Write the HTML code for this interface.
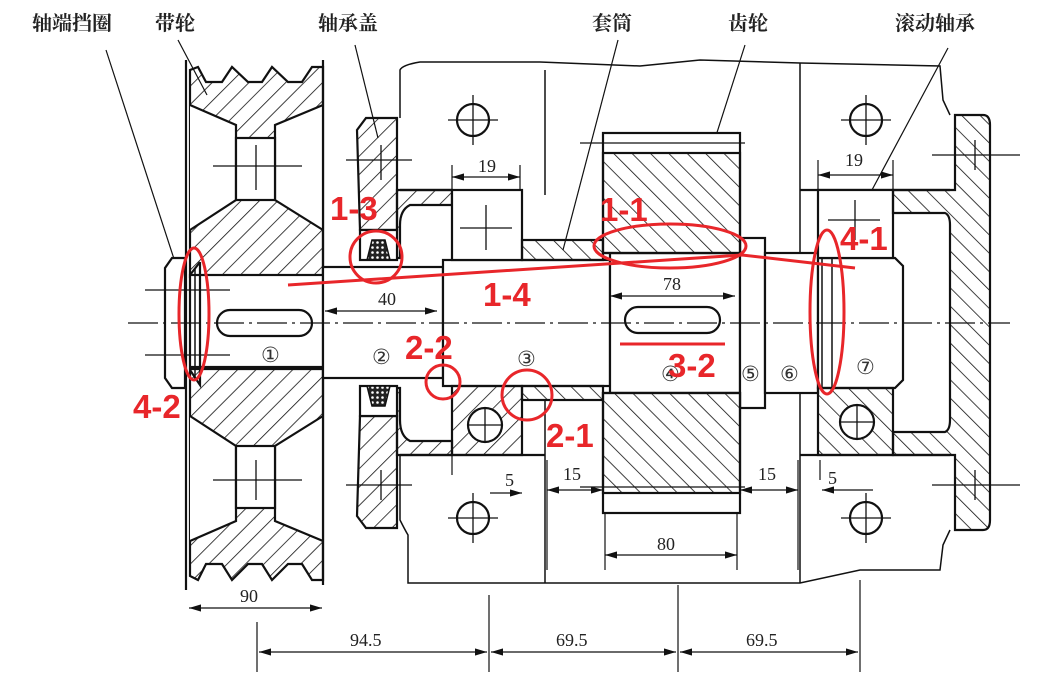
<!DOCTYPE html>
<html><head><meta charset="utf-8"><style>
html,body{margin:0;padding:0;background:#fff;}
svg{display:block}
.t{font-family:"Liberation Serif","Noto Serif CJK SC",serif;font-size:20px;fill:#222;font-weight:bold}
.d{font-family:"Liberation Serif",serif;font-size:18px;fill:#222}
.r{font-family:"Liberation Sans",sans-serif;font-size:33px;font-weight:bold;fill:#e8262a}
.c{font-family:"Liberation Serif","DejaVu Serif",serif;font-size:21px;fill:#333}
</style></head><body>
<svg width="1038" height="687" viewBox="0 0 1038 687" xmlns="http://www.w3.org/2000/svg">
<defs>
<pattern id="h" width="13" height="13" patternUnits="userSpaceOnUse" patternTransform="rotate(45)"><line x1="0" y1="0" x2="0" y2="13" stroke="#111" stroke-width="1.6"/></pattern>
<pattern id="hb" width="13" height="13" patternUnits="userSpaceOnUse" patternTransform="rotate(-45)"><line x1="0" y1="0" x2="0" y2="13" stroke="#111" stroke-width="1.6"/></pattern>
<pattern id="dots" width="5" height="5" patternUnits="userSpaceOnUse"><rect width="5" height="5" fill="#222"/><circle cx="2.5" cy="2.5" r="1.3" fill="#fff"/></pattern>
<marker id="a" markerWidth="10" markerHeight="6" refX="10" refY="3" orient="auto-start-reverse"><path d="M0,0 L10,3 L0,6z" fill="#111"/></marker>
</defs>
<rect width="1038" height="687" fill="#fff"/>
<g stroke="#111" fill="none" stroke-width="2.2">
<g stroke-width="1.2">
<line x1="106" y1="50" x2="175" y2="262"/>
<line x1="178" y1="40" x2="207" y2="95"/>
<line x1="355" y1="45" x2="378" y2="138"/>
<line x1="618" y1="40" x2="563" y2="250"/>
<line x1="745" y1="45" x2="713" y2="145"/>
<line x1="948" y1="48" x2="865" y2="203"/>
</g>
<path d="M400,118 V70 Q402,65 420,62 L540,62 L640,66 L700,60 L800,63 L940,66 L943,100 L950,115" stroke-width="1.5"/>
<path d="M400,455 V520 Q405,530 408,535 V583 L800,583 L860,570 L940,570 L943,545 L950,530" stroke-width="1.5"/>
<line x1="545" y1="70" x2="545" y2="195" stroke-width="1.5"/>
<line x1="545" y1="400" x2="545" y2="583" stroke-width="1.5"/>
<line x1="800" y1="63" x2="800" y2="253" stroke-width="1.5"/>
<line x1="800" y1="393" x2="800" y2="583" stroke-width="1.5"/>
<line x1="800" y1="190" x2="950" y2="190"/>
<line x1="800" y1="455" x2="950" y2="455"/>
<line x1="400" y1="190" x2="452" y2="190"/>
<line x1="400" y1="455" x2="545" y2="455"/>
<path d="M190,277 V105 L190,70 L198,67 L206,82 L222,82 L232,67 L248,82 L262,82 L272,67 L288,82 L302,82 L312,67 L323,67 V277 Z" fill="url(#h)"/>
<path d="M190,105 L236,125 V200 L190,230 Z" fill="#fff" stroke="none"/>
<path d="M323,105 L275,125 V200 L323,230 Z" fill="#fff" stroke="none"/>
<path d="M190,105 L236,125 V200 L190,230 M323,105 L275,125 V200 L323,230" />
<rect x="236" y="138" width="39" height="62" fill="#fff"/>
<path d="M190,369 V541 L190,576 L198,580 L206,564 L222,564 L232,580 L248,564 L262,564 L272,580 L288,564 L302,564 L312,580 L323,580 V369 Z" fill="url(#h)"/>
<path d="M190,541 L236,521 V446 L190,416 Z" fill="#fff" stroke="none"/>
<path d="M323,541 L275,521 V446 L323,416 Z" fill="#fff" stroke="none"/>
<path d="M190,541 L236,521 V446 L190,416 M323,541 L275,521 V446 L323,416"/>
<rect x="236" y="446" width="39" height="62" fill="#fff"/>
<line x1="186" y1="60" x2="186" y2="590" />
<line x1="323" y1="60" x2="323" y2="585"/>
<rect x="190" y="275" width="133" height="92" fill="#fff"/>
<rect x="323" y="267" width="120" height="111" fill="#fff"/>
<rect x="443" y="260" width="167" height="126" fill="#fff"/>
<rect x="610" y="253" width="130" height="140" fill="#fff"/>
<rect x="740" y="238" width="25" height="170" fill="#fff"/>
<rect x="765" y="253" width="53" height="140" fill="#fff"/>
<path d="M818,258 H895 L903,266 V380 L895,388 H818 Z" fill="#fff"/>
<rect x="217" y="310" width="95" height="26" rx="13" fill="#fff"/>
<rect x="625" y="307" width="95" height="26" rx="13" fill="#fff"/>
<path d="M172,258 H185 V388 H172 L165,378 V268 Z" fill="#fff"/>
<path d="M190,275 L200,262 M200,262 V385 L190,370" />
<line x1="195" y1="268" x2="195" y2="380" stroke-width="1.5"/>
<line x1="822" y1="258" x2="822" y2="388" stroke-width="1.5"/>
<line x1="832" y1="258" x2="832" y2="388" stroke-width="1.5"/>
<path d="M357,130 L366,118 H397 V230 H360 Z" fill="url(#h)"/>
<path d="M397,190 H452 V205 H410 Q400,210 400,225 V258 H397 Z" fill="url(#h)"/>
<rect x="360" y="230" width="37" height="30" fill="#fff"/>
<path d="M367,260 L372,240 H385 L390,260 Z" fill="url(#dots)" stroke-width="1.5"/>
<path d="M357,516 L366,528 H397 V416 H360 Z" fill="url(#h)"/>
<path d="M397,455 H452 V441 H410 Q400,436 400,420 V388 H397 Z" fill="url(#h)"/>
<rect x="360" y="386" width="37" height="30" fill="#fff"/>
<path d="M367,386 L372,406 H385 L390,386 Z" fill="url(#dots)" stroke-width="1.5"/>
<rect x="452" y="190" width="70" height="70" fill="#fff"/>
<rect x="452" y="386" width="70" height="69" fill="url(#h)"/>
<circle cx="485" cy="425" r="17" fill="#fff"/>
<rect x="522" y="240" width="81" height="20" fill="url(#hb)"/>
<rect x="522" y="386" width="81" height="14" fill="url(#hb)"/>
<rect x="603" y="133" width="137" height="120" fill="#fff"/>
<rect x="603" y="153" width="137" height="100" fill="url(#hb)"/>
<rect x="603" y="393" width="137" height="120" fill="#fff"/>
<rect x="603" y="393" width="137" height="100" fill="url(#hb)"/>
<rect x="818" y="190" width="75" height="68" fill="#fff"/>
<rect x="818" y="388" width="75" height="67" fill="url(#hb)"/>
<circle cx="857" cy="422" r="17" fill="#fff"/>
<path d="M955,115 H983 Q990,115 990,125 V520 Q990,530 983,530 H955 V455 H893 V432 H945 Q950,430 950,420 V225 Q950,215 945,213 H893 V190 H955 Z" fill="url(#hb)"/>
</g>
<g stroke="#111" fill="none" stroke-width="2.2">
<circle cx="473" cy="120" r="16"/><circle cx="473" cy="518" r="16"/>
<circle cx="866" cy="120" r="16"/><circle cx="866" cy="518" r="16"/>
</g>
<g stroke="#111" stroke-width="1.3">
<path d="M448,120H498M473,95V145M448,518H498M473,493V543M841,120H891M866,95V145M841,518H891M866,493V543"/>
<path d="M468,425H502M485,408V442M840,422H874M857,405V439"/>
<path d="M460,228H512M486,205V250M828,220H880M855,200V240"/>
<path d="M213,166H302M256,145V190M213,480H302M256,460V500"/>
<path d="M346,160H412M381,145V180M346,485H412M381,470V500"/>
<path d="M145,290H230M145,355H230"/>
<path d="M580,143H745M580,487H745"/>
<path d="M932,155H1020M975,140V170M932,485H1020M975,470V500"/>
<path d="M128,323H1010" stroke-dasharray="30,5,3,5"/>
</g>
<g stroke="#111" stroke-width="1.2" fill="none">
<path d="M452,165V190M520,165V190M818,160V190M893,160V190"/>
<line x1="452" y1="177" x2="520" y2="177" marker-start="url(#a)" marker-end="url(#a)"/>
<line x1="818" y1="175" x2="893" y2="175" marker-start="url(#a)" marker-end="url(#a)"/>
<line x1="325" y1="311" x2="437" y2="311" marker-start="url(#a)" marker-end="url(#a)"/>
<line x1="610" y1="296" x2="735" y2="296" marker-start="url(#a)" marker-end="url(#a)"/>
<path d="M605,513V570M737,513V570M547,460V570M798,460V570M820,460V480M452,455V475"/>
<line x1="605" y1="555" x2="737" y2="555" marker-start="url(#a)" marker-end="url(#a)"/>
<line x1="547" y1="490" x2="603" y2="490" marker-start="url(#a)" marker-end="url(#a)"/>
<line x1="740" y1="490" x2="798" y2="490" marker-start="url(#a)" marker-end="url(#a)"/>
<line x1="490" y1="493" x2="522" y2="493" marker-end="url(#a)"/>
<line x1="873" y1="490" x2="822" y2="490" marker-end="url(#a)"/>
<line x1="189" y1="608" x2="322" y2="608" marker-start="url(#a)" marker-end="url(#a)"/>
<path d="M257,622V672M489,595V672M678,585V672M860,580V672"/>
<line x1="259" y1="652" x2="487" y2="652" marker-start="url(#a)" marker-end="url(#a)"/>
<line x1="491" y1="652" x2="676" y2="652" marker-start="url(#a)" marker-end="url(#a)"/>
<line x1="680" y1="652" x2="858" y2="652" marker-start="url(#a)" marker-end="url(#a)"/>
</g>
<g class="d">
<text x="478" y="172">19</text><text x="845" y="166">19</text>
<text x="378" y="305">40</text><text x="663" y="290">78</text>
<text x="657" y="550">80</text><text x="563" y="480">15</text><text x="758" y="480">15</text>
<text x="505" y="486">5</text><text x="828" y="484">5</text>
<text x="240" y="602">90</text><text x="350" y="646">94.5</text>
<text x="556" y="646">69.5</text><text x="746" y="646">69.5</text>
</g>
<g class="c">
<text x="261" y="362">①</text><text x="372" y="364">②</text><text x="517" y="366">③</text>
<text x="661" y="381">④</text><text x="741" y="381">⑤</text><text x="780" y="381">⑥</text><text x="856" y="374">⑦</text>
</g>
<g class="t">
<text x="32" y="30">轴端挡圈</text><text x="155" y="30">带轮</text><text x="318" y="30">轴承盖</text>
<text x="592" y="30">套筒</text><text x="728" y="30">齿轮</text><text x="895" y="30">滚动轴承</text>
</g>
<g stroke="#e8262a" stroke-width="3" fill="none">
<circle cx="376" cy="257" r="26"/>
<ellipse cx="670" cy="246" rx="76" ry="22"/>
<ellipse cx="827" cy="312" rx="17" ry="82"/>
<ellipse cx="194" cy="314" rx="15" ry="66"/>
<circle cx="443" cy="382" r="17"/>
<circle cx="527" cy="395" r="25"/>
<path d="M288,285 L742,255 L855,268"/>
<line x1="620" y1="344" x2="725" y2="344"/>
</g>
<g class="r">
<text x="330" y="220">1-3</text><text x="600" y="221">1-1</text><text x="840" y="250">4-1</text>
<text x="483" y="306">1-4</text><text x="405" y="359">2-2</text><text x="133" y="418">4-2</text>
<text x="668" y="377">3-2</text><text x="546" y="447">2-1</text>
</g>
</svg>
</body></html>
